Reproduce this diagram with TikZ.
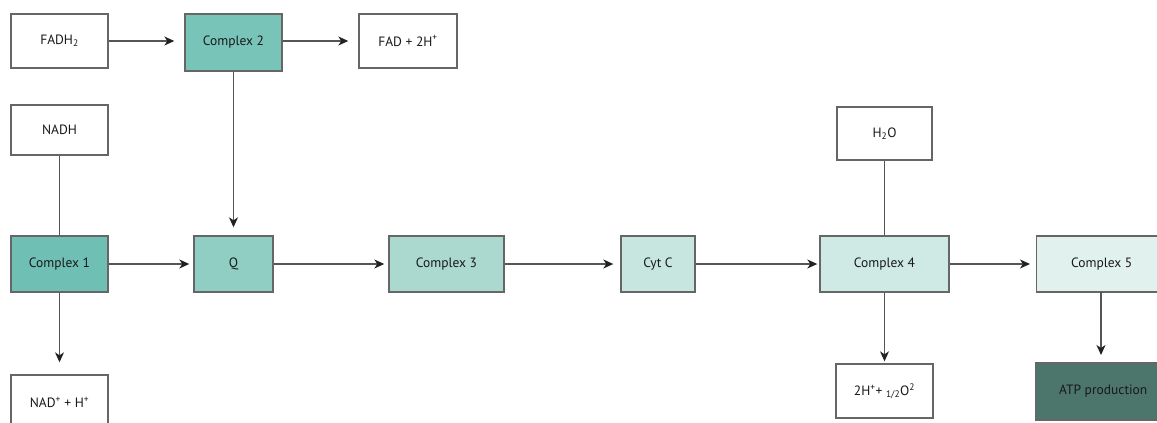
\documentclass[tikz,border=0pt]{standalone}
\usepackage{fontspec}
\setmainfont{PT Sans}
\usetikzlibrary{arrows.meta}
\definecolor{edgegray}{HTML}{666666}
\definecolor{linegray}{HTML}{555555}
\definecolor{tipblack}{HTML}{222222}
\definecolor{cA}{HTML}{6FBFB4}
\definecolor{cB}{HTML}{79C4B9}
\definecolor{cQ}{HTML}{90CDC2}
\definecolor{cC}{HTML}{ABD9CF}
\definecolor{cD}{HTML}{C6E6DF}
\definecolor{cE}{HTML}{CFEAE4}
\definecolor{cF}{HTML}{E1F2EE}
\definecolor{cATP}{HTML}{4C756B}
\begin{document}
\begin{tikzpicture}[x=1pt,y=-1pt,
  box/.style={draw=edgegray,line width=1.4pt,fill=white,inner sep=0pt,
    font=\fontsize{13.5}{16}\selectfont,text=black!90},
  link/.style={draw=linegray,line width=1.2pt},
  flow/.style={link,-{Stealth[length=10pt,width=9pt,inset=3pt,color=tipblack]}},
]
\useasboundingbox (0,0) rectangle (1157,423);
% substrates and products
\node[box,minimum width=97,minimum height=54] (fadh) at (59.5,41) {FADH\textsubscript{2}};
\node[box,minimum width=98,minimum height=54] (fad) at (408,41) {FAD + 2H\textsuperscript{+}};
\node[box,minimum width=97,minimum height=50] (nadh) at (59.5,130) {NADH};
\node[box,minimum width=97,minimum height=55] (nad) at (59.5,402.5) {NAD\textsuperscript{+} + H\textsuperscript{+}};
\node[box,minimum width=95,minimum height=53] (water) at (884.5,133.5) {H\textsubscript{2}O};
\node[box,minimum width=97,minimum height=54] (oxy) at (884.5,391) {2H\textsuperscript{+}+ \textsubscript{1/2}O\textsuperscript{2}};
% respiratory chain
\node[box,fill=cB,minimum width=97,minimum height=57] (c2) at (233.5,42.5) {Complex 2};
\node[box,fill=cA,minimum width=97,minimum height=56] (c1) at (59.5,264) {Complex 1};
\node[box,fill=cQ,minimum width=79,minimum height=56] (q) at (233.5,264) {Q};
\node[box,fill=cC,minimum width=115,minimum height=56] (c3) at (446.5,264) {Complex 3};
\node[box,fill=cD,minimum width=74,minimum height=56] (cyt) at (658,264) {Cyt C};
\node[box,fill=cE,minimum width=129,minimum height=56] (c4) at (884.5,264) {Complex 4};
\node[box,fill=cF,minimum width=134,minimum height=56,anchor=west] (c5) at (1036,264) {\hspace*{-2pt}Complex 5\hspace*{2pt}};
\node[box,fill=cATP,minimum width=135,minimum height=57,anchor=west] (atp) at (1035,391.5) {ATP production};
% connectors
\draw[flow,shorten >=10pt] (fadh.east) -- (fadh.east -| c2.west);
\draw[flow,shorten >=10pt] (c2.east |- fad.west) -- (fad.west);
\draw[link] (nadh) -- (c1);
\draw[flow,shorten >=12pt] (c1) -- (nad);
\draw[flow,shorten >=8pt] (c2) -- (q);
\draw[flow,shorten >=4pt] (c1) -- (q);
\draw[flow,shorten >=4pt] (q) -- (c3);
\draw[flow,shorten >=7pt] (c3) -- (cyt);
\draw[flow,shorten >=2pt] (cyt) -- (c4);
\draw[flow,shorten >=6pt] (c4) -- (c5);
\draw[link] (water) -- (c4);
\draw[flow,shorten >=2pt] (c4) -- (oxy);
\coordinate (c5foot) at (1101,292);
\coordinate (atptop) at (1101,363);
\draw[flow,shorten >=8pt] (c5foot) -- (atptop);
\end{tikzpicture}
\end{document}
